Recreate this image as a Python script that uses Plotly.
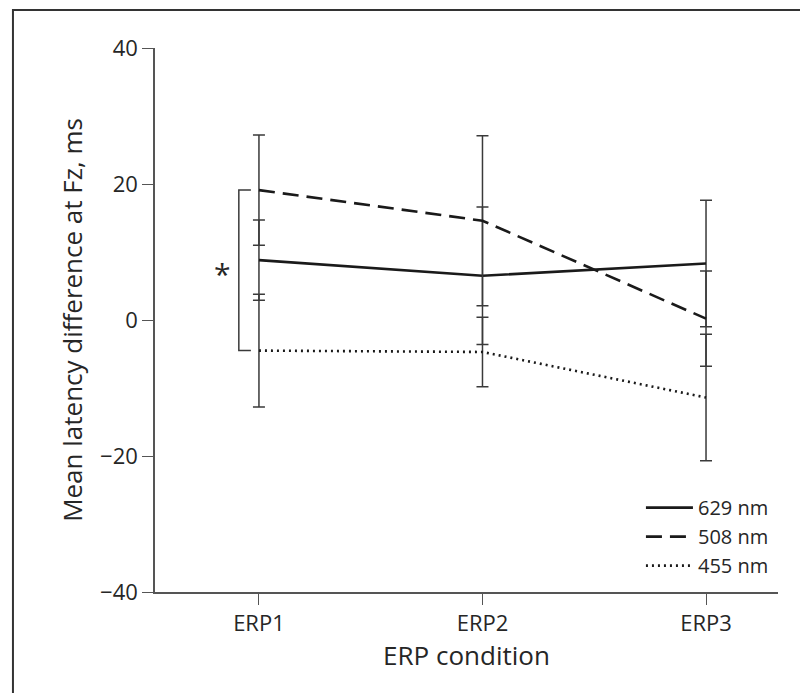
import plotly.graph_objects as go

categories = ["ERP1", "ERP2", "ERP3"]
series_names = ["629 nm", "508 nm", "455 nm"]
mean_629 = [8.8, 6.5, 8.3]
err_629 = [5.9, 10.1, 9.3]
mean_508 = [19.1, 14.6, 0.2]
err_508 = [8.1, 12.5, 7.0]
mean_455 = [-4.5, -4.7, -11.4]
err_455 = [8.3, 5.1, 9.3]
y_ticks = [-40, -20, 0, 20, 40]

FONT = "Open Sans"
TXT = "#262626"
x_idx = list(range(len(categories)))

fig = go.Figure()
styles = [
    (series_names[0], mean_629, err_629, "solid", 2.6),
    (series_names[1], mean_508, err_508, "16px,8px", 2.6),
    (series_names[2], mean_455, err_455, "2px,4px", 2.6),
]
for name, m, e, dash, w in styles:
    fig.add_trace(go.Scatter(
        x=x_idx, y=m, name=name, mode="lines",
        line=dict(color="#1a1a1a", width=w, dash=dash),
        error_y=dict(type="data", array=e, visible=True,
                     color="#3a3a3a", thickness=1.5, width=6),
    ))

# significance bracket between 508 nm and 455 nm at ERP1
bx = -0.09
btick = 0.054
ytop = mean_508[0]
ybot = mean_455[0]
fig.add_shape(type="path",
              path=f"M {bx+btick},{ytop} L {bx},{ytop} L {bx},{ybot} L {bx+btick},{ybot}",
              xref="x", yref="y", line=dict(color="#3a3a3a", width=1.5))
fig.add_annotation(x=-0.165, y=(ytop + ybot) / 2 - 0.3, xref="x", yref="y",
                   text="*", showarrow=False,
                   font=dict(family=FONT, size=30, color=TXT),
                   yanchor="middle", yshift=-1)

# outer frame
fig.add_shape(type="rect", xref="paper", yref="paper",
              x0=-0.228, x1=1.07, y0=-0.25, y1=1.0699,
              line=dict(color="#333333", width=2), layer="above")

fig.update_layout(
    width=800, height=685,
    margin=dict(l=147, r=30, t=40, b=101),
    plot_bgcolor="white", paper_bgcolor="white",
    font=dict(family=FONT, size=22, color=TXT),
    showlegend=True,
    legend=dict(x=0.78, y=0.191, xanchor="left", yanchor="top",
                bgcolor="rgba(0,0,0,0)", font=dict(size=20, color=TXT),
                tracegroupgap=0, itemwidth=47),
    xaxis=dict(
        range=[-0.465, 2.322], tickvals=x_idx, ticktext=categories,
        showline=True, linecolor="#555555", linewidth=1.5,
        ticks="outside", ticklen=11, tickcolor="#555555", tickwidth=1.3,
        showgrid=False, zeroline=False,
        title=dict(text="ERP condition", standoff=8),
    ),
    yaxis=dict(
        range=[-40, 40], tickvals=y_ticks,
        showline=True, linecolor="#555555", linewidth=1.5,
        ticks="outside", ticklen=11, tickcolor="#555555", tickwidth=1.3,
        showgrid=False, zeroline=False,
        title=dict(text="Mean latency difference at Fz, ms", standoff=10),
    ),
)

fig.write_html("out.html")
